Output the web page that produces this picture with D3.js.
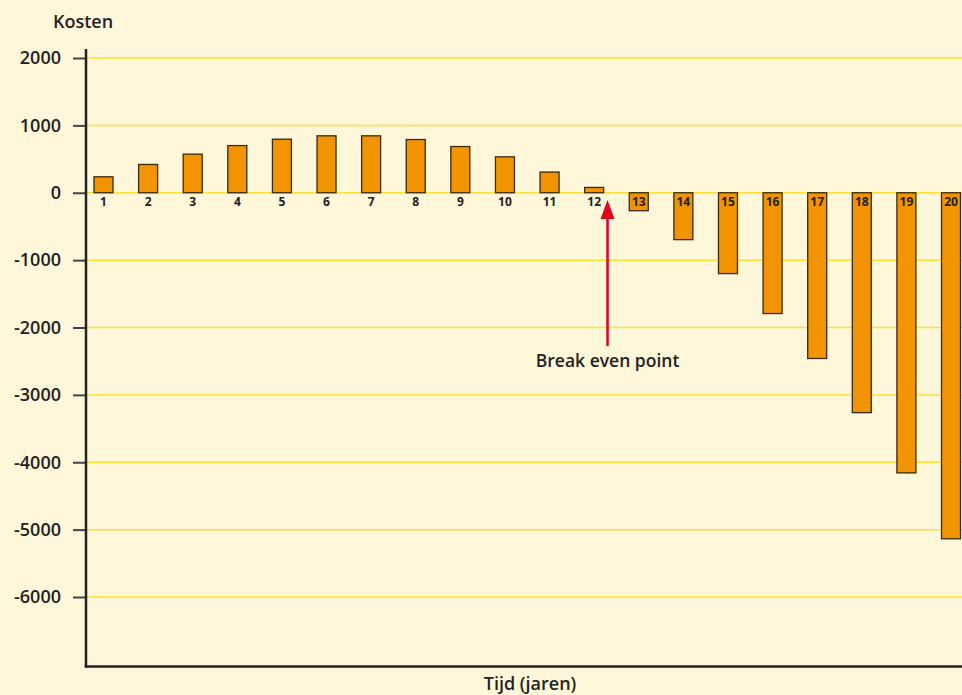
<!DOCTYPE html>
<html><head><meta charset="utf-8">
<script src="https://cdn.jsdelivr.net/npm/d3@7/dist/d3.min.js"></script>
<style>
html,body{margin:0;padding:0;background:#fff7da;}
svg{display:block;}
text{font-family:"Open Sans","Noto Sans",sans-serif;fill:#222;}
</style></head><body>
<svg id="c" width="962" height="695"></svg>
<script>
const years = [1,2,3,4,5,6,7,8,9,10,11,12,13,14,15,16,17,18,19,20];
const kosten = [237,420,573,700,795,845,845,790,686,533,307,79,-267,-696,-1200,-1793,-2460,-3264,-4158,-5136];
const yTicks = [2000,1000,0,-1000,-2000,-3000,-4000,-5000,-6000];
const breakEvenYear = 12.3;

const svg = d3.select("#c");
svg.append("rect").attr("width",962).attr("height",695).attr("fill","#fff7da");

const x0 = 86, x1 = 962;
const y = d3.scaleLinear().domain([2000,-6000]).range([58,597]);
const x = d3.scaleLinear().domain([1,20]).range([103.5,951]);
const bw = 19;

// gridlines
svg.append("g").selectAll("line").data(yTicks).join("line")
  .attr("x1",x0).attr("x2",x1).attr("y1",d=>y(d)).attr("y2",d=>y(d))
  .attr("stroke","#ffe033").attr("stroke-width",1.5);

// y axis
const yAxis = d3.axisLeft(y).tickValues(yTicks).tickSize(13).tickPadding(12).tickFormat(d=>String(d));
const gy = svg.append("g").attr("transform",`translate(${x0},0)`).call(yAxis);
gy.select(".domain").remove();
gy.selectAll(".tick line").attr("stroke","#444").attr("stroke-width",2);
gy.selectAll(".tick text").attr("font-size",18).attr("font-weight",600)
  .attr("font-family","'Open Sans',sans-serif").attr("fill","#222");

// bars
svg.append("g").selectAll("rect").data(years).join("rect")
  .attr("x",(d)=>x(d)-bw/2)
  .attr("y",(d,i)=>Math.min(y(0),y(kosten[i])))
  .attr("width",bw)
  .attr("height",(d,i)=>Math.abs(y(kosten[i])-y(0)))
  .attr("fill","#f29400").attr("stroke","#3a2a10").attr("stroke-width",1.3);

// year labels
svg.append("g").selectAll("text").data(years).join("text")
  .attr("x",d=>x(d)).attr("y",206)
  .attr("text-anchor","middle")
  .attr("font-size",12).attr("font-weight",700)
  .text(d=>d);

// axis lines
svg.append("line").attr("x1",x0).attr("x2",x0).attr("y1",49).attr("y2",667.5)
  .attr("stroke","#222").attr("stroke-width",2.5);
svg.append("line").attr("x1",x0-1.25).attr("x2",x1).attr("y1",666.5).attr("y2",666.5)
  .attr("stroke","#222").attr("stroke-width",2.5);

// titles
svg.append("text").attr("x",53).attr("y",28).attr("font-size",18).attr("font-weight",600).text("Kosten");
svg.append("text").attr("x",530).attr("y",690).attr("text-anchor","middle")
  .attr("font-size",18).attr("font-weight",600).text("Tijd (jaren)");

// break even arrow
const ax = x(breakEvenYear);
svg.append("line").attr("x1",ax).attr("x2",ax).attr("y1",215).attr("y2",346)
  .attr("stroke","#e2001a").attr("stroke-width",2.5);
svg.append("path").attr("d",`M${ax},200 L${ax-7},219 L${ax+7},219 Z`).attr("fill","#e2001a");
svg.append("text").attr("x",ax).attr("y",367).attr("text-anchor","middle")
  .attr("font-size",17.5).attr("font-weight",600).text("Break even point");
</script>
</body></html>
